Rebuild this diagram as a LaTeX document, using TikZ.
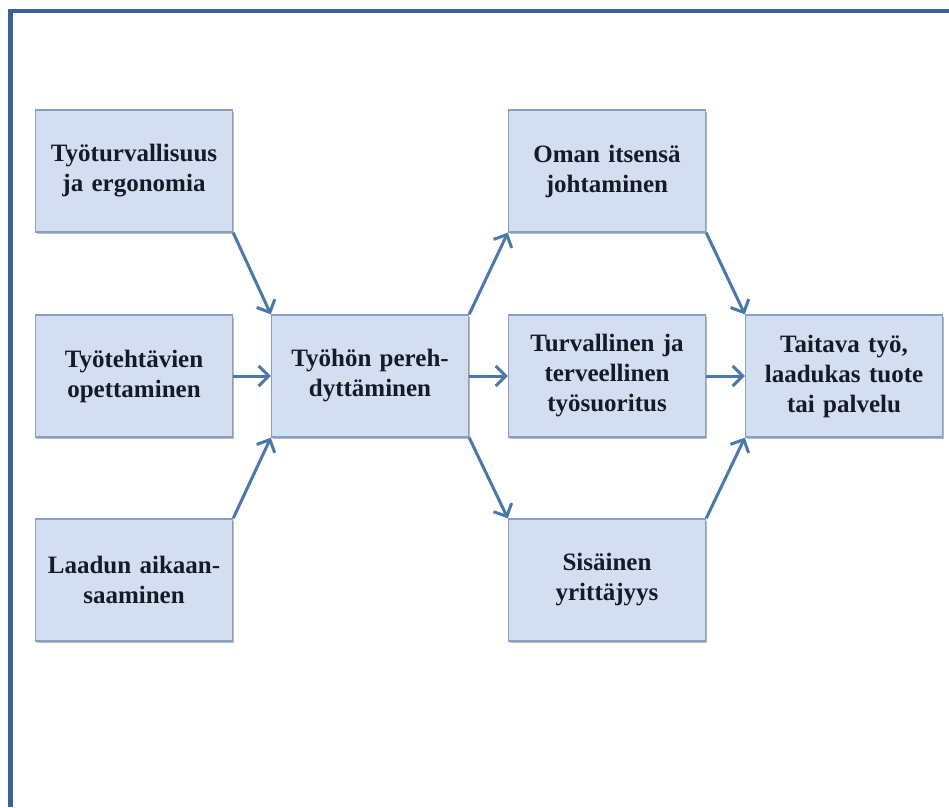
\documentclass[tikz,border=0pt]{standalone}
\usepackage{fontspec}
\setmainfont{Liberation Serif}
\usetikzlibrary{arrows.meta,shadows}
\definecolor{boxfill}{HTML}{D3DFF0}
\definecolor{boxline}{HTML}{869FC2}
\definecolor{arrowblue}{HTML}{4A78AA}
\definecolor{frameblue}{HTML}{3A6496}
\definecolor{textdark}{HTML}{151A26}
\tikzset{
  stage/.style={draw=boxline, line width=1.4pt, fill=boxfill,
    minimum width=197pt, minimum height=122pt, inner sep=1pt,
    align=center, text=textdark, text width=195pt,
    font=\bfseries\fontsize{25}{30}\selectfont,
    drop shadow={shadow xshift=1.2pt, shadow yshift=-1.8pt, opacity=0.45, fill=black!60}},
  flow/.style={draw=arrowblue, line width=3pt,
    -{Straight Barb[length=10pt, width=20pt, line width=3pt]}}
}
\begin{document}
\begin{tikzpicture}[x=1pt, y=-1pt]
  \useasboundingbox (0,0) rectangle (949,807);
  % open frame: top and left edges
  \draw[frameblue, line width=4.5pt] (10.5,807) -- (10.5,11) -- (949,11);

  % input column
  \node[stage] (safety)  at (134,171) {Työturvallisuus\\ja ergonomia};
  \node[stage] (tasks)   at (134,376) {Työtehtävien\\opettaminen};
  \node[stage] (quality) at (134,580) {Laadun aikaan-\\saaminen};
  % orientation
  \node[stage] (orient)  at (370,376) {Työhön pereh-\\dyttäminen};
  % outcome column
  \node[stage] (self)    at (607,171) {Oman itsensä\\johtaminen};
  \node[stage] (healthy) at (607,376) {Turvallinen ja\\terveellinen\\työsuoritus};
  \node[stage] (entre)   at (607,580) {Sisäinen\\yrittäjyys};
  % result
  \node[stage] (result)  at (844,376) {Taitava työ,\\laadukas tuote\\tai palvelu};

  \draw[flow] (safety.south east)  -- (orient.north west);
  \draw[flow] (tasks.east)         -- (orient.west);
  \draw[flow] (quality.north east) -- (orient.south west);
  \draw[flow] (orient.north east)  -- (self.south west);
  \draw[flow] (orient.east)        -- (healthy.west);
  \draw[flow] (orient.south east)  -- (entre.north west);
  \draw[flow] (self.south east)    -- (result.north west);
  \draw[flow] (healthy.east)       -- (result.west);
  \draw[flow] (entre.north east)   -- (result.south west);
\end{tikzpicture}
\end{document}
